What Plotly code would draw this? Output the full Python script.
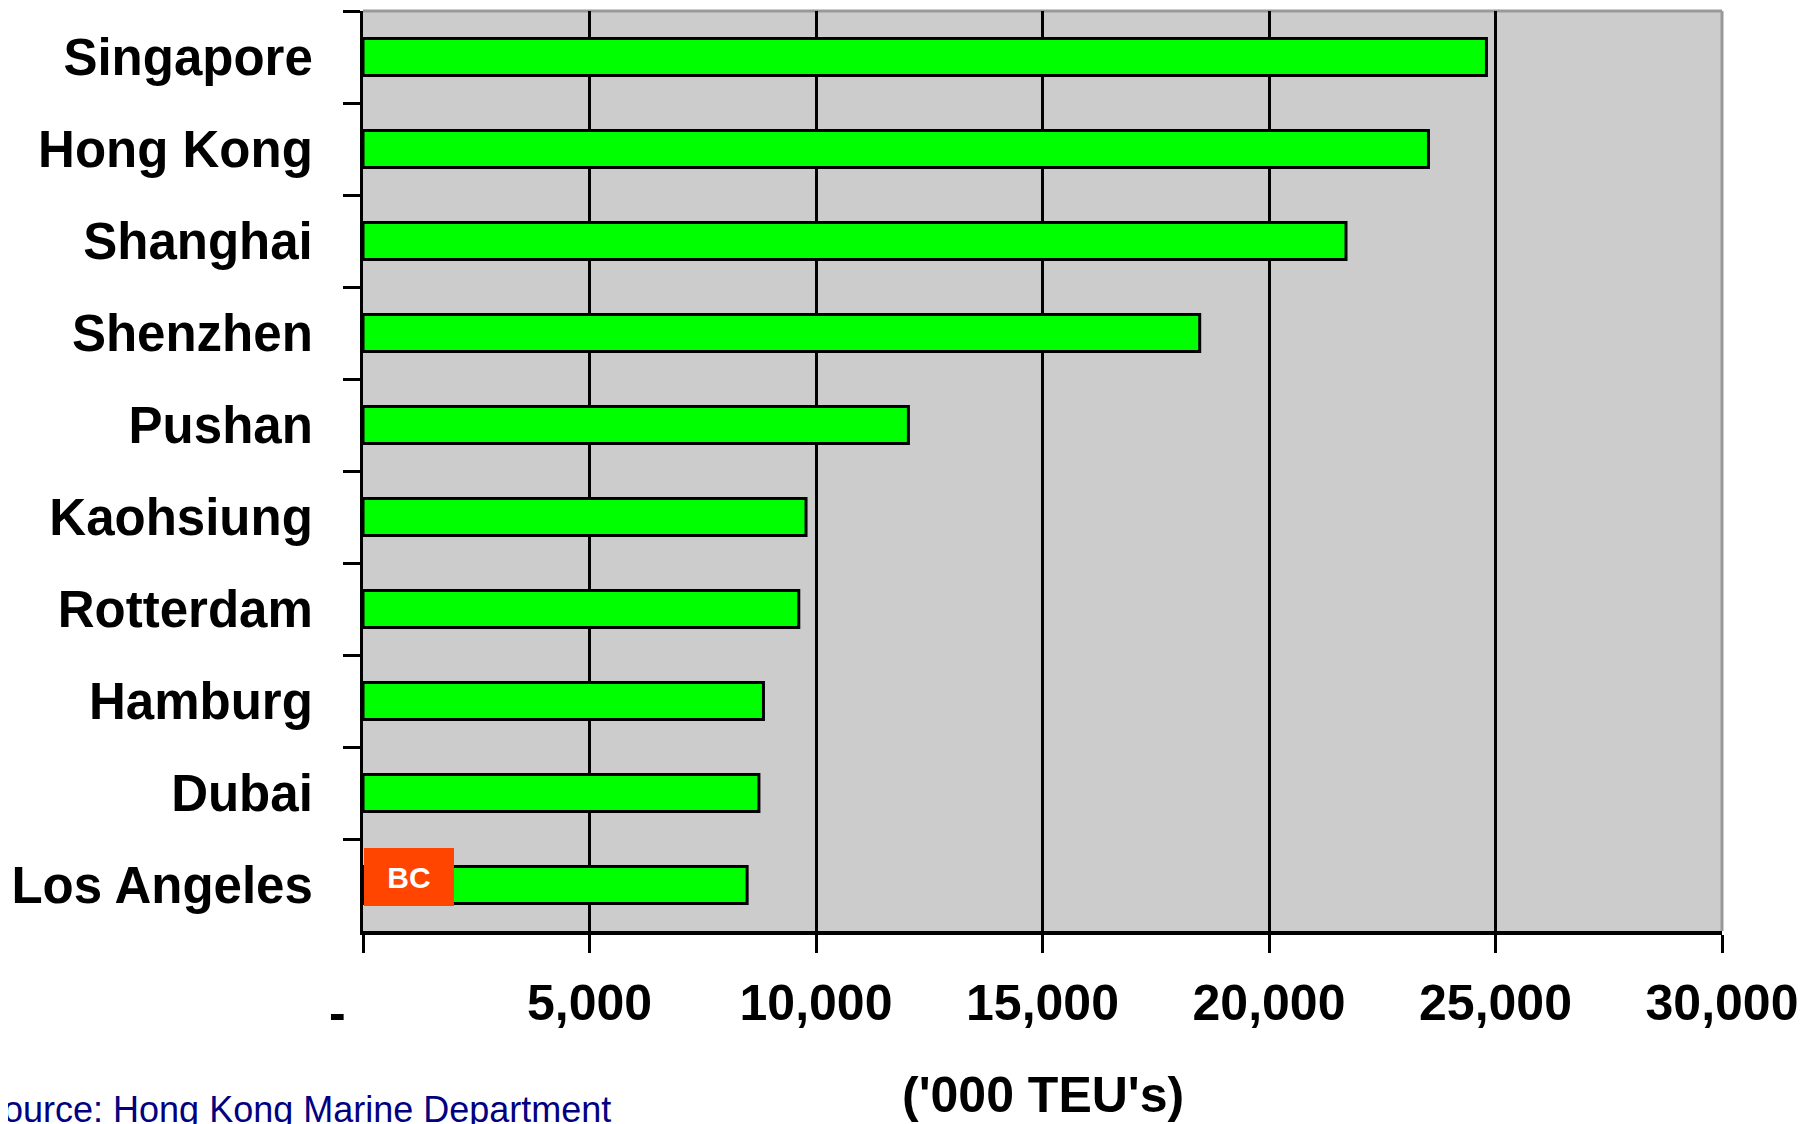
import plotly.graph_objects as go

ports = ["Singapore", "Hong Kong", "Shanghai", "Shenzhen", "Pushan",
         "Kaohsiung", "Rotterdam", "Hamburg", "Dubai", "Los Angeles"]
teu = [24800, 23520, 21700, 18470, 12040, 9780, 9620, 8840, 8740, 8480]

x_tickvals = [0, 5000, 10000, 15000, 20000, 25000, 30000]
x_ticktext = ["", "5,000", "10,000", "15,000", "20,000", "25,000", "30,000"]

FONT = "Liberation Sans, Arial, sans-serif"

fig = go.Figure()
fig.add_trace(go.Bar(
    x=teu, y=ports, orientation="h", width=0.4,
    marker=dict(color="#00FF00", line=dict(color="black", width=3)),
    hoverinfo="skip",
))

fig.update_layout(
    width=1820, height=1124,
    margin=dict(l=350, r=106, t=3, b=201),
    paper_bgcolor="white", plot_bgcolor="#CCCCCC",
    showlegend=False,
    font=dict(family=FONT, color="black"),
    xaxis=dict(
        range=[0, 30000], tickvals=x_tickvals, ticktext=x_ticktext,
        showgrid=True, gridcolor="black", gridwidth=3,
        showline=True, linecolor="black", linewidth=4,
        ticks="outside", ticklen=18, tickwidth=3, tickcolor="black",
        tickfont=dict(size=50, weight="bold", family=FONT, color="black"),
        ticklabelstandoff=7, zeroline=False,
    ),
    yaxis=dict(
        type="category", categoryorder="array", categoryarray=ports,
        autorange="reversed", showgrid=False,
        showline=True, linecolor="black", linewidth=3,
        ticks="outside", tickson="boundaries", ticklen=17, tickwidth=3,
        tickcolor="black",
        tickfont=dict(size=51, weight="bold", family=FONT, color="black"),
        ticklabelstandoff=37,
    ),
    shapes=[
        dict(type="line", xref="paper", yref="paper", x0=0, x1=1, y0=1, y1=1,
             line=dict(color="#999999", width=3), layer="between"),
        dict(type="line", xref="paper", yref="paper", x0=1, x1=1, y0=0, y1=1,
             line=dict(color="#999999", width=3), layer="between"),
    ],
    annotations=[
        dict(text="-", xref="x", yref="paper", x=0, y=-0.089, xshift=-26,
             yanchor="middle", showarrow=False,
             font=dict(size=50, weight="bold", color="black")),
        dict(text="('000 TEU's)", xref="paper", yref="paper", x=0.5, y=-0.178,
             yanchor="middle", showarrow=False,
             font=dict(size=50, weight="bold", color="black")),
        dict(text="Source: Hong Kong Marine Department", xref="paper", yref="paper",
             x=-0.2844, xanchor="left", y=-0.194, yanchor="middle", showarrow=False,
             font=dict(size=36, color="#000080")),
        dict(text="BC", xref="paper", yref="paper", x=0.0007, xanchor="left",
             y=0.0587, yanchor="middle", showarrow=False,
             width=90, height=58, bgcolor="#FF4500", borderpad=0, borderwidth=0,
             font=dict(size=30, weight="bold", color="white")),
    ],
)

fig.write_html("out.html")
